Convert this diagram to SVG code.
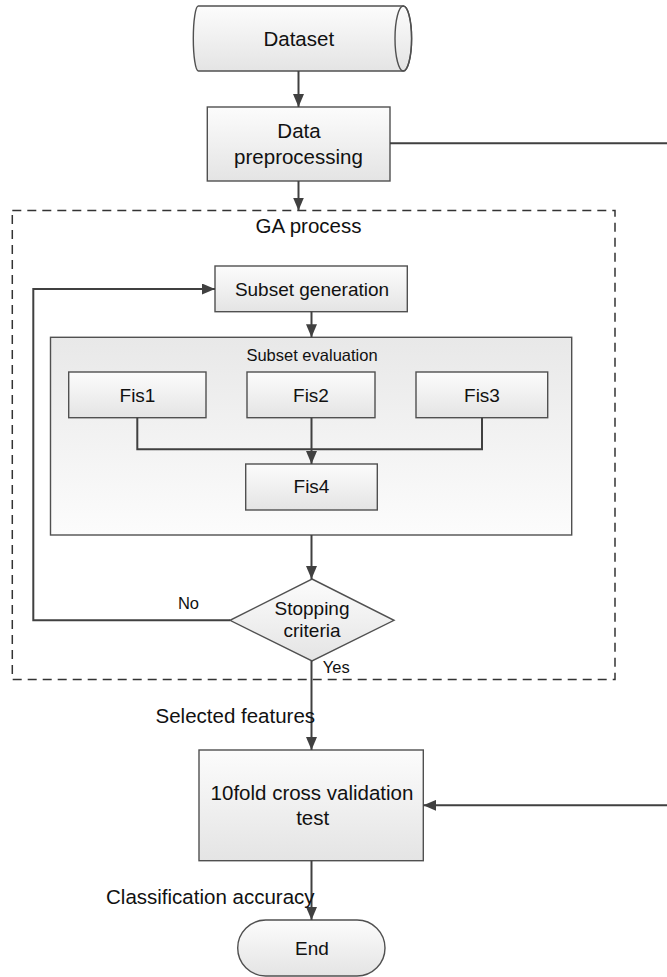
<svg xmlns="http://www.w3.org/2000/svg" width="667" height="977" viewBox="0 0 667 977">
<style>
  text { font-family: "Liberation Sans", Arial, sans-serif; fill: #111; text-anchor: middle; }
  .box { fill: url(#gBox); stroke: #505050; stroke-width: 1.4; }
  .eval { fill: url(#gEval); stroke: #505050; stroke-width: 1.4; }
  .conn { fill: none; stroke: #404040; stroke-width: 2; }
  .dash { fill: none; stroke: #333; stroke-width: 1.5; stroke-dasharray: 9 6; }
  .t20 { font-size: 20.5px; }
  .t19 { font-size: 19px; }
  .t17 { font-size: 16.5px; }
</style>
<defs>
  <linearGradient id="gBox" x1="0" y1="0" x2="0" y2="1">
    <stop offset="0" stop-color="#fcfcfc"/>
    <stop offset="1" stop-color="#e4e4e4"/>
  </linearGradient>
  <linearGradient id="gEval" x1="0" y1="0" x2="0" y2="1">
    <stop offset="0" stop-color="#e8e8e8"/>
    <stop offset="1" stop-color="#fcfcfc"/>
  </linearGradient>
  <marker id="arr" markerUnits="userSpaceOnUse" markerWidth="13" markerHeight="11" refX="13" refY="5.5" orient="auto">
    <path d="M0,0 L13,5.5 L0,11 Z" fill="#404040"/>
  </marker>
</defs>

<g id="ga-process">
  <rect class="dash" x="12.3" y="210.5" width="602.7" height="469"/>
  <text class="t20" x="308.5" y="232.7">GA process</text>
</g>

<g id="dataset">
  <path class="box" d="M198.3,6 H403.3 A8.3,32.5 0 0 1 403.3,71 H198.3 A5,32.5 0 0 1 198.3,6 Z"/>
  <ellipse cx="403.3" cy="38.5" rx="8.3" ry="32.5" fill="none" stroke="#505050" stroke-width="1.4"/>
  <text class="t20" x="298.8" y="45.7">Dataset</text>
</g>

<g id="data-preprocessing">
  <rect class="box" x="207.3" y="107" width="182.7" height="74"/>
  <text class="t20" x="299" y="137.7">Data</text>
  <text class="t20" x="298.5" y="164.3">preprocessing</text>
</g>

<g id="subset-generation">
  <rect class="box" x="215" y="266" width="192.3" height="45.7"/>
  <text class="t19" x="312" y="296">Subset generation</text>
</g>

<g id="subset-evaluation">
  <rect class="eval" x="50.5" y="337.3" width="521.2" height="197.7"/>
  <text class="t17" x="312" y="360.7">Subset evaluation</text>
</g>

<g id="fis1">
  <rect class="box" x="68.7" y="372" width="137.3" height="45.7"/>
  <text class="t19" x="137.5" y="401.7">Fis1</text>
</g>
<g id="fis2">
  <rect class="box" x="247" y="372" width="128" height="45.7"/>
  <text class="t19" x="311" y="401.7">Fis2</text>
</g>
<g id="fis3">
  <rect class="box" x="416" y="372" width="131.7" height="45.7"/>
  <text class="t19" x="482" y="401.7">Fis3</text>
</g>
<g id="fis4">
  <rect class="box" x="245.7" y="464" width="131.6" height="46"/>
  <text class="t19" x="311.5" y="493.3">Fis4</text>
</g>

<g id="stopping-criteria">
  <path class="box" d="M312,579 L394,620.3 L312,661 L230,620.3 Z"/>
  <text class="t19" x="312" y="615">Stopping</text>
  <text class="t19" x="312" y="637.3">criteria</text>
</g>

<g id="cross-validation">
  <rect class="box" x="199" y="750" width="224.3" height="110.7"/>
  <text class="t20" x="312" y="800">10fold cross validation</text>
  <text class="t20" x="312.7" y="825">test</text>
</g>

<g id="end">
  <rect class="box" x="237.7" y="920" width="147.3" height="56" rx="28" ry="28"/>
  <text class="t19" x="312" y="955">End</text>
</g>

<g id="connectors">
  <path class="conn" d="M298.5,71 V107" marker-end="url(#arr)"/>
  <path class="conn" d="M298.5,181 V210.5" marker-end="url(#arr)"/>
  <path class="conn" d="M390,143.3 H672 V805.3 H423.3" marker-end="url(#arr)"/>
  <path class="conn" d="M230,620.3 H33.3 V289 H215" marker-end="url(#arr)"/>
  <path class="conn" d="M311.5,311.7 V337.3" marker-end="url(#arr)"/>
  <path class="conn" d="M137.3,417.7 V449.3 H482 V417.7"/>
  <path class="conn" d="M311.5,417.7 V464" marker-end="url(#arr)"/>
  <path class="conn" d="M311.5,535 V579" marker-end="url(#arr)"/>
  <path class="conn" d="M311.5,661 V750" marker-end="url(#arr)"/>
  <path class="conn" d="M311.5,860.7 V920" marker-end="url(#arr)"/>
</g>

<g id="labels">
  <text class="t17" x="188.5" y="609">No</text>
  <text class="t17" x="336.3" y="673.3">Yes</text>
  <text class="t20" x="235.3" y="722.7">Selected features</text>
  <text class="t20" x="210.3" y="904.3">Classification accuracy</text>
</g>
</svg>
